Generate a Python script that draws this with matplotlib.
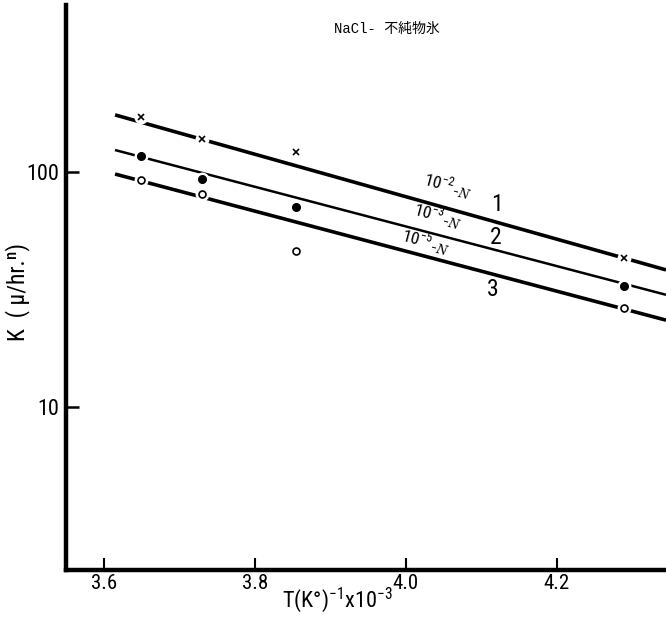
import matplotlib
matplotlib.use("Agg")
import matplotlib.pyplot as plt
from matplotlib import font_manager

# reciprocal temperature (1/K x 10^-3)
inv_temp = [3.65, 3.73, 3.855, 4.29]

# growth constant K for the three NaCl concentrations
k_1e2 = [171, 138, 122, 43]
k_1e3 = [117, 93, 71, 32.7]
k_1e5 = [92.5, 80.6, 46, 26.4]

# fitted straight lines (end points)
fit_x = [3.615, 4.345]
fit_1e2 = [175, 38.3]
fit_1e3 = [124, 30.0]
fit_1e5 = [98, 23.4]

line_labels = [r"$\mathit{10}^{\mathit{-2}}{}_{\mathit{-N}}$",
               r"$\mathit{10}^{\mathit{-3}}{}_{\mathit{-N}}$",
               r"$\mathit{10}^{\mathit{-5}}{}_{\mathit{-N}}$"]
line_numbers = ["1", "2", "3"]
xticks = [3.6, 3.8, 4.0, 4.2]
xticklabels = ["3.6", "3.8", "4.0", "4.2"]
yticks = [10, 100]
yticklabels = ["10", "100"]


def pick_font(names):
    for name in names:
        try:
            font_manager.findfont(name, fallback_to_default=False)
            return name
        except Exception:
            continue
    return "DejaVu Sans"


narrow = pick_font(["Liberation Sans Narrow", "Roboto Condensed", "DejaVu Sans Condensed", "Liberation Sans"])

plt.rcParams["mathtext.fontset"] = "custom"
plt.rcParams["mathtext.rm"] = narrow
plt.rcParams["mathtext.it"] = "DejaVu Serif:italic"

fig = plt.figure(figsize=(6.66, 6.19), dpi=100)
ax = fig.add_axes([66 / 666, 49 / 619, 600 / 666, 565 / 619])

ax.set_yscale("log")
ax.set_xlim(3.55, 4.345)
ax.set_ylim(2.02, 514)

# fitted lines: 1 and 3 heavy, 2 lighter
ax.plot(fit_x, fit_1e2, color="black", lw=2.6, zorder=2, solid_capstyle="butt")
ax.plot(fit_x, fit_1e3, color="black", lw=1.8, zorder=2, solid_capstyle="butt")
ax.plot(fit_x, fit_1e5, color="black", lw=2.6, zorder=2, solid_capstyle="butt")

# white halo so lines break around the points
for ys in (k_1e2, k_1e3, k_1e5):
    ax.plot(inv_temp, ys, ls="none", marker="o", ms=9, mfc="white", mec="white", zorder=3)

ax.plot(inv_temp, k_1e2, ls="none", marker="x", ms=4.5, mew=1.2, color="black", zorder=4)
ax.plot(inv_temp, k_1e3, ls="none", marker="o", ms=5.5, mfc="black", mec="black", zorder=4)
ax.plot(inv_temp, k_1e5, ls="none", marker="o", ms=5, mfc="white", mec="black", mew=1.2, zorder=4)

# concentration labels along the lines
label_pos = [(4.055, 88), (4.042, 65), (4.026, 50.8)]
for (lx, ly), txt in zip(label_pos, line_labels):
    ax.text(lx, ly, txt, rotation=-15, ha="center", va="center", fontsize=12.5, zorder=5)

num_pos = [(4.121, 72.4), (4.119, 52.4), (4.116, 31.5)]
for (nx, ny), txt in zip(num_pos, line_numbers):
    ax.text(nx, ny, txt, ha="center", va="center", fontsize=17, family=narrow, zorder=5)

for side in ("top", "right"):
    ax.spines[side].set_visible(False)
ax.spines["left"].set_linewidth(3.2)
ax.spines["bottom"].set_linewidth(3.2)

ax.set_xticks(xticks)
ax.set_xticklabels(xticklabels, family=narrow, fontsize=15)
ax.set_yticks(yticks)
ax.set_yticklabels(yticklabels, family=narrow, fontsize=16)
ax.yaxis.set_minor_locator(matplotlib.ticker.NullLocator())
ax.tick_params(axis="x", direction="in", length=9, width=1.5, pad=3)
ax.tick_params(axis="y", direction="in", length=9, width=1.8, pad=5)

fig.text(18 / 666, 1 - 292 / 619, "K  ( \u03bc/hr.\u207f)", rotation=90, ha="center", va="center",
         fontsize=17, family=narrow)
fig.text(337 / 666, 1 - 600 / 619, r"T(K°)$^{-1}$x10$^{-3}$", ha="center", va="center",
         fontsize=16, family=narrow)
fig.text(387 / 666, 1 - 29 / 619, "NaCl- 不純物氷", ha="center", va="center", fontsize=10,
         family=["Liberation Mono", "Noto Sans CJK JP"])

fig.savefig("out.png", dpi=100)
